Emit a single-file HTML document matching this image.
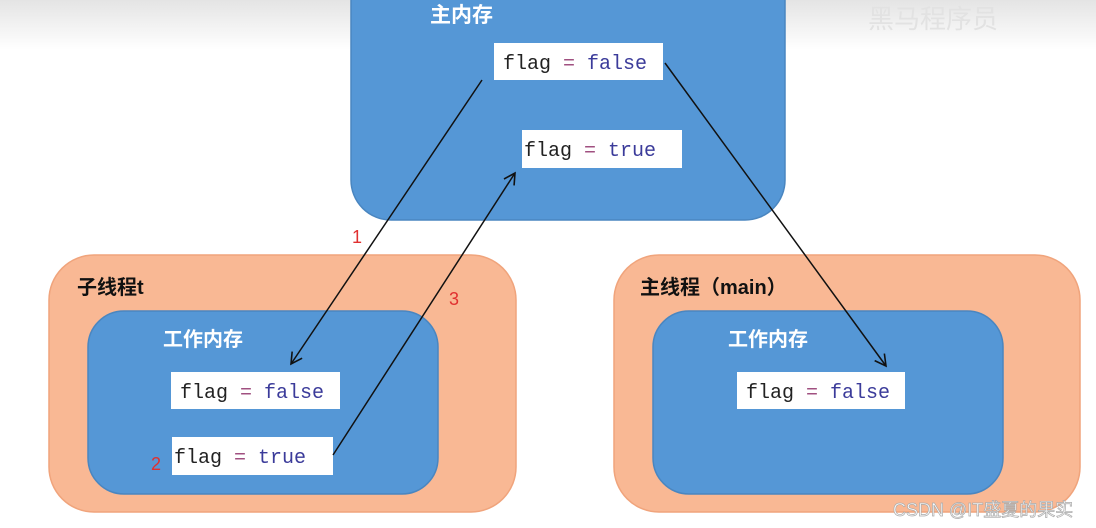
<!DOCTYPE html>
<html><head><meta charset="utf-8"><style>
html,body{margin:0;padding:0;background:#fff;}
svg{display:block;}
.cn{font-family:"Liberation Sans","Noto Sans CJK SC",sans-serif;}
.code{font-family:"Liberation Mono",monospace;font-size:20px;}
</style></head><body>
<svg width="1096" height="528" viewBox="0 0 1096 528" xmlns="http://www.w3.org/2000/svg">
<defs>
<linearGradient id="top" x1="0" y1="0" x2="0" y2="1"><stop offset="0" stop-color="#e4e4e4"/><stop offset="1" stop-color="#ffffff"/></linearGradient>
<marker id="ah" markerWidth="14" markerHeight="14" refX="12" refY="7" orient="auto" markerUnits="userSpaceOnUse">
<path d="M1,1 L12,7 L1,13" fill="none" stroke="#111" stroke-width="1.6"/></marker>
</defs>
<rect x="0" y="0" width="1096" height="50" fill="url(#top)"/>
<text x="868" y="28" class="cn" font-size="26" fill="#e2e2e2">黑马程序员</text>
<!-- main memory -->
<rect x="351" y="-40" width="434" height="260" rx="40" fill="#5597d6" stroke="#4a86c0" stroke-width="1.5"/>
<text x="430" y="22" class="cn" font-size="21" font-weight="bold" fill="#fff">主内存</text>
<rect x="494" y="43" width="169" height="37" fill="#fff"/>
<text x="503" y="69" class="code" fill="#222">flag <tspan fill="#a05080">=</tspan> <tspan fill="#3b3b9a">false</tspan></text>
<rect x="522" y="130" width="160" height="38" fill="#fff"/>
<text x="524" y="156" class="code" fill="#222">flag <tspan fill="#a05080">=</tspan> <tspan fill="#3b3b9a">true</tspan></text>
<!-- left thread -->
<rect x="49" y="255" width="467" height="257" rx="45" fill="#f9b894" stroke="#f0a47c" stroke-width="1.5"/>
<text x="77" y="294" class="cn" font-size="20" font-weight="bold" fill="#111">子线程t</text>
<rect x="88" y="311" width="350" height="183" rx="36" fill="#5597d6" stroke="#4a86c0" stroke-width="1.5"/>
<text x="163" y="346" class="cn" font-size="20" font-weight="bold" fill="#fff">工作内存</text>
<rect x="171" y="372" width="169" height="37" fill="#fff"/>
<text x="180" y="398" class="code" fill="#222">flag <tspan fill="#a05080">=</tspan> <tspan fill="#3b3b9a">false</tspan></text>
<rect x="172" y="437" width="161" height="38" fill="#fff"/>
<text x="174" y="463" class="code" fill="#222">flag <tspan fill="#a05080">=</tspan> <tspan fill="#3b3b9a">true</tspan></text>
<!-- right thread -->
<rect x="614" y="255" width="466" height="257" rx="45" fill="#f9b894" stroke="#f0a47c" stroke-width="1.5"/>
<text x="640" y="294" class="cn" font-size="20" font-weight="bold" fill="#111">主线程（main）</text>
<rect x="653" y="311" width="350" height="183" rx="36" fill="#5597d6" stroke="#4a86c0" stroke-width="1.5"/>
<text x="728" y="346" class="cn" font-size="20" font-weight="bold" fill="#fff">工作内存</text>
<rect x="737" y="372" width="168" height="37" fill="#fff"/>
<text x="746" y="398" class="code" fill="#222">flag <tspan fill="#a05080">=</tspan> <tspan fill="#3b3b9a">false</tspan></text>
<!-- arrows -->
<line x1="482" y1="80" x2="291" y2="364" stroke="#111" stroke-width="1.5" marker-end="url(#ah)"/>
<line x1="333" y1="455" x2="515" y2="173" stroke="#111" stroke-width="1.5" marker-end="url(#ah)"/>
<line x1="665" y1="63" x2="886" y2="366" stroke="#111" stroke-width="1.5" marker-end="url(#ah)"/>
<text x="352" y="243" class="cn" font-size="18" fill="#e03030">1</text>
<text x="449" y="305" class="cn" font-size="18" fill="#e03030">3</text>
<text x="151" y="470" class="cn" font-size="18" fill="#e03030">2</text>
<text x="893" y="516" class="cn" font-size="18" fill="#ffffff" stroke="#aaa" stroke-width="0.7">CSDN @IT盛夏的果实</text>
</svg>
</body></html>
